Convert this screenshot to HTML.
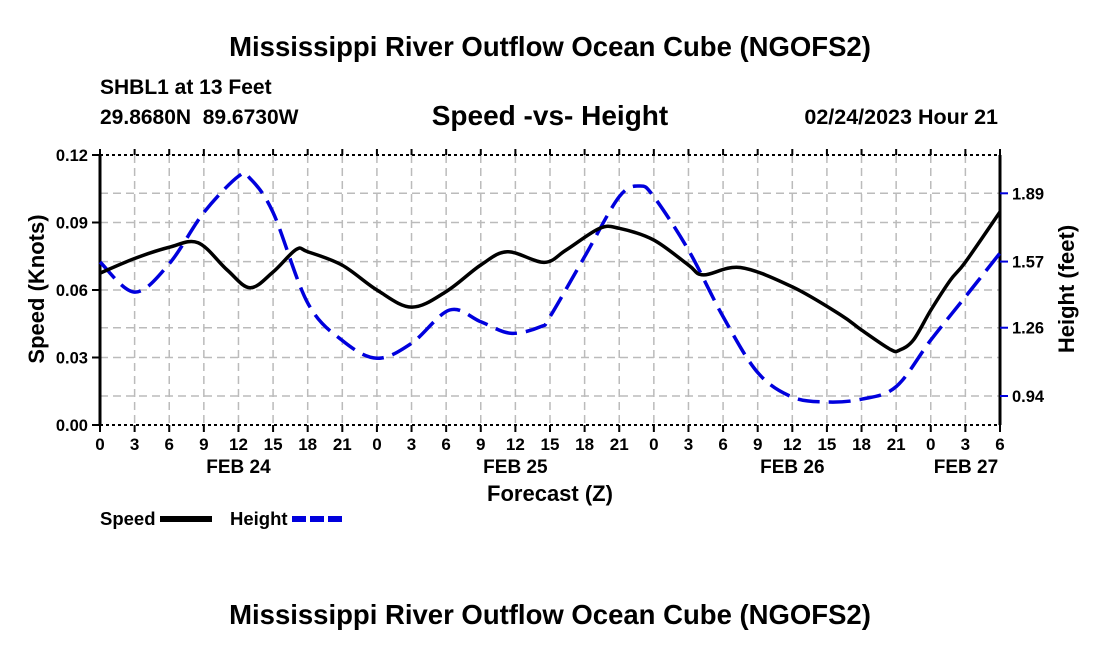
<!DOCTYPE html>
<html><head><meta charset="utf-8"><style>
body{margin:0;background:#fff;}
svg{display:block;font-family:"Liberation Sans",Arial,sans-serif;font-weight:bold;}
</style></head><body>
<svg id="c" width="1100" height="650" viewBox="0 0 1100 650">
<text x="550" y="56" text-anchor="middle" font-size="27.5">Mississippi River Outflow Ocean Cube (NGOFS2)</text>
<text x="100" y="94" font-size="21">SHBL1 at 13 Feet</text>
<text x="100" y="124" font-size="21" xml:space="preserve">29.8680N  89.6730W</text>
<text x="550" y="125" text-anchor="middle" font-size="28">Speed -vs- Height</text>
<text x="998" y="124" text-anchor="end" font-size="21.5">02/24/2023 Hour 21</text>
<text x="550" y="501" text-anchor="middle" font-size="22">Forecast (Z)</text>
<text transform="translate(44,289) rotate(-90)" text-anchor="middle" font-size="22">Speed (Knots)</text>
<text transform="translate(1074,289) rotate(-90)" text-anchor="middle" font-size="22">Height (feet)</text>
<g>
<text x="100" y="525" font-size="18.5">Speed</text>
<line x1="160" y1="519" x2="212" y2="519" stroke="#000" stroke-width="6"/>
<text x="230" y="525" font-size="18.5">Height</text>
<line x1="292" y1="519" x2="342" y2="519" stroke="#0000dd" stroke-width="6" stroke-dasharray="14,4"/>
</g>
<text x="550" y="624" text-anchor="middle" font-size="27.5">Mississippi River Outflow Ocean Cube (NGOFS2)</text>
<g id="plot"></g>
</svg>
<script>
const speedHours=[0,3,6,8.5,11,13,15,17,18,21,24,27,30,33,35.3,38.5,40.4,43.3,45,48,51,52.3,55.5,60,64.2,66,68.5,69.3,70.5,72,73.7,75,78];
const speedVals=[0.0675,0.074,0.079,0.081,0.069,0.061,0.068,0.078,0.077,0.071,0.060,0.0524,0.0593,0.0711,0.0770,0.0723,0.0778,0.0874,0.0874,0.0822,0.0711,0.0667,0.070,0.0614,0.0489,0.0422,0.0336,0.0333,0.0378,0.051,0.0644,0.0724,0.0947];
const heightHours=[0,3,6,9,12,13,15,18,21,24,27,30.3,33,35.6,38.2,39,42,45,46.8,48,51,54,57,60,63,66,69,72,75,78];
const heightVals=[1.568,1.427,1.56,1.80,1.97,1.96,1.80,1.376,1.20,1.117,1.187,1.343,1.288,1.234,1.265,1.312,1.593,1.874,1.924,1.874,1.624,1.312,1.05,0.935,0.912,0.925,0.984,1.202,1.405,1.61];
const xTicks=[0,3,6,9,12,15,18,21,24,27,30,33,36,39,42,45,48,51,54,57,60,63,66,69,72,75,78];
const xTickText=["0","3","6","9","12","15","18","21","0","3","6","9","12","15","18","21","0","3","6","9","12","15","18","21","0","3","6"];
const dayLabels=["FEB 24","FEB 25","FEB 26","FEB 27"];
const dayHours=[12,36,60,84];
const speedTicks=[0,0.03,0.06,0.09,0.12];
const heightTicks=[0.94,1.26,1.57,1.89];
const X0=100,X1=1000,Y0=425,Y1=155;
const x=h=>X0+(h/78)*(X1-X0);
const yS=v=>Y0-(v/0.12)*(Y0-Y1);
const yH=v=>396-(v-0.94)*(396-193.3)/(1.89-0.94);
const NS="http://www.w3.org/2000/svg";
const g=document.getElementById('plot');
function mk(t,a){const e=document.createElementNS(NS,t);for(const k in a)e.setAttribute(k,a[k]);g.appendChild(e);return e;}
xTicks.forEach(h=>{if(h>0&&h<78){const e=mk('line',{x1:x(h),x2:x(h),y1:Y1,y2:Y0,stroke:'#bbb','stroke-width':1.5,'stroke-dasharray':'8,5'});

}});
speedTicks.forEach(v=>{if(v>0&&v<0.12){const e=mk('line',{x1:X0,x2:X1,y1:yS(v),y2:yS(v),stroke:'#bbb','stroke-width':1.5,'stroke-dasharray':'8,5'});

}});
heightTicks.forEach(v=>{const e=mk('line',{x1:X0,x2:X1,y1:yH(v),y2:yH(v),stroke:'#bbb','stroke-width':1.5,'stroke-dasharray':'8,5'});

});
[[X0,Y1,X1,Y1],[X0,Y0,X1,Y0]].forEach(s=>{const e=mk('line',{x1:s[0],y1:s[1],x2:s[2],y2:s[3],stroke:'#000','stroke-width':2,'stroke-dasharray':'3,3'});

});
[[X0,Y1,X0,Y0],[X1,Y1,X1,Y0]].forEach(s=>{const e=mk('line',{x1:s[0],y1:s[1],x2:s[2],y2:s[3],stroke:'#000','stroke-width':3});

});
xTicks.forEach((h,i)=>{const e=mk('line',{x1:x(h),x2:x(h),y1:Y0,y2:Y0+7,stroke:'#000','stroke-width':2});


const t=mk('line',{x1:x(h),x2:x(h),y1:Y1,y2:Y1-6,stroke:'#000','stroke-width':2});


const l=mk('text',{x:x(h),y:Y0+25,'text-anchor':'middle','font-size':17});l.textContent=xTickText[i];

});
dayLabels.forEach((d,i)=>{let px=Math.min(x(dayHours[i]),966);const l=mk('text',{x:px,y:Y0+48,'text-anchor':'middle','font-size':19});l.textContent=d;

});
speedTicks.forEach(v=>{const e=mk('line',{x1:X0-8,x2:X0,y1:yS(v),y2:yS(v),stroke:'#000','stroke-width':2});


const l=mk('text',{x:X0-12,y:yS(v)+6,'text-anchor':'end','font-size':16.5});l.textContent=v.toFixed(2);

});
heightTicks.forEach(v=>{const e=mk('line',{x1:X1,x2:X1+8,y1:yH(v),y2:yH(v),stroke:'#0000dd','stroke-width':2});


const l=mk('text',{x:X1+12,y:yH(v)+6,'font-size':16.5});l.textContent=v.toFixed(2);

});
function smooth(pts){let d='M'+pts[0][0]+','+pts[0][1];for(let i=0;i<pts.length-1;i++){const p0=pts[i-1]||pts[i],p1=pts[i],p2=pts[i+1],p3=pts[i+2]||p2;
d+=' C'+(p1[0]+(p2[0]-p0[0])/6)+','+(p1[1]+(p2[1]-p0[1])/6)+' '+(p2[0]-(p3[0]-p1[0])/6)+','+(p2[1]-(p3[1]-p1[1])/6)+' '+p2[0]+','+p2[1];}return d;}
const hp=mk('path',{d:smooth(heightHours.map((h,i)=>[x(h),yH(heightVals[i])])),fill:'none',stroke:'#0000dd','stroke-width':3.5,'stroke-dasharray':'22,9'});


const sp=mk('path',{d:smooth(speedHours.map((h,i)=>[x(h),yS(speedVals[i])])),fill:'none',stroke:'#000','stroke-width':3.5});


</script>
</body></html>
